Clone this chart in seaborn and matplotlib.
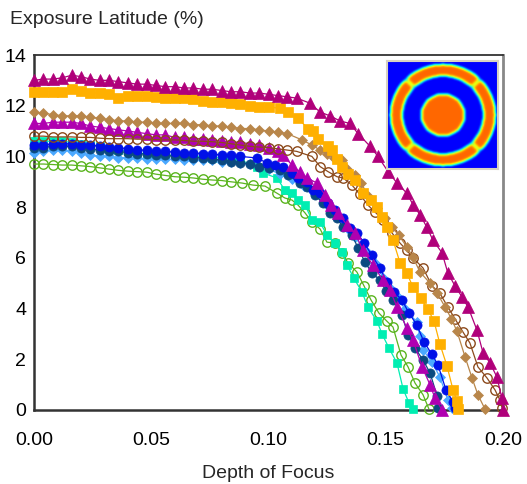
import numpy as np
import pandas as pd
import matplotlib
matplotlib.use("Agg")
import matplotlib.pyplot as plt
import seaborn as sns

# ---------------- data ----------------
series_names = ["A", "B", "C", "D", "E", "F", "G", "H", "I", "J"]

dof_A = [0.000, 0.004, 0.008, 0.012, 0.016, 0.020, 0.024, 0.028, 0.032, 0.036, 0.040, 0.044, 0.048, 0.052,
         0.056, 0.060, 0.064, 0.068, 0.072, 0.076, 0.080, 0.084, 0.088, 0.092, 0.096, 0.100, 0.104, 0.108,
         0.112, 0.1177, 0.1220, 0.1262, 0.1305, 0.1347, 0.1382, 0.1433, 0.1467, 0.1510, 0.1548, 0.1590,
         0.1616, 0.1646, 0.1676, 0.1701, 0.1740, 0.1765, 0.1795, 0.1825, 0.1851, 0.1889, 0.1915, 0.1945,
         0.1974, 0.1995, 0.2000]
el_A = [13.0, 13.05, 13.05, 13.1, 13.2, 13.15, 13.05, 13.0, 13.0, 12.95, 12.9, 12.85, 12.85, 12.8,
        12.75, 12.75, 12.7, 12.7, 12.65, 12.65, 12.6, 12.55, 12.55, 12.5, 12.5, 12.45, 12.4, 12.35,
        12.3, 12.1, 11.75, 11.6, 11.4, 11.3, 10.9, 10.4, 10.0, 9.4, 8.95, 8.55,
        8.1, 7.7, 7.2, 6.7, 6.2, 5.4, 4.9, 4.46, 4.06, 3.15, 2.25, 1.85,
        1.3, 0.47, 0.0]

dof_B = [0.000, 0.004, 0.008, 0.012, 0.016, 0.020, 0.024, 0.028, 0.032, 0.036, 0.040, 0.044, 0.048, 0.052,
         0.056, 0.060, 0.064, 0.068, 0.072, 0.076, 0.080, 0.084, 0.088, 0.092, 0.096, 0.100, 0.1049, 0.1083,
         0.1126, 0.1168, 0.1190, 0.1211, 0.1254, 0.1271, 0.1292, 0.1313, 0.1340, 0.1369, 0.1405, 0.1435,
         0.1463, 0.1484, 0.1505, 0.1531, 0.1561, 0.1590, 0.1616, 0.1650, 0.1680, 0.1706, 0.1731, 0.1761,
         0.1787, 0.1804, 0.1809]
el_B = [12.55, 12.55, 12.55, 12.55, 12.65, 12.6, 12.5, 12.5, 12.45, 12.3, 12.4, 12.4, 12.4, 12.35,
        12.3, 12.3, 12.3, 12.25, 12.2, 12.15, 12.15, 12.1, 12.05, 12.0, 11.95, 11.95, 11.9, 11.75,
        11.5, 11.1, 11.0, 10.7, 10.4, 10.25, 9.9, 9.6, 9.3, 9.07, 8.55, 8.3,
        8.0, 7.6, 7.2, 6.7, 5.8, 5.4, 4.85, 4.4, 3.97, 3.5, 2.6, 1.74,
        0.79, 0.35, 0.04]

dof_C = [0.000, 0.004, 0.008, 0.012, 0.016, 0.020, 0.024, 0.028, 0.032, 0.036, 0.040, 0.044, 0.048, 0.052,
         0.056, 0.060, 0.064, 0.068, 0.072, 0.076, 0.080, 0.084, 0.088, 0.092, 0.096, 0.100, 0.104, 0.108,
         0.1143, 0.1185, 0.1220, 0.1249, 0.1278, 0.1313, 0.1335, 0.1369, 0.1395, 0.1425, 0.1463, 0.1497,
         0.1527, 0.1555, 0.1590, 0.1616, 0.1646, 0.1689, 0.1720, 0.1753, 0.1780, 0.1804, 0.1838, 0.1868,
         0.1893, 0.1923]
el_C = [11.75, 11.7, 11.65, 11.6, 11.6, 11.6, 11.55, 11.5, 11.45, 11.4, 11.4, 11.35, 11.35, 11.3,
        11.3, 11.3, 11.3, 11.25, 11.25, 11.2, 11.2, 11.15, 11.1, 11.1, 11.05, 11.0, 10.95, 10.9,
        10.65, 10.45, 10.25, 10.1, 9.95, 9.86, 9.5, 9.25, 8.95, 8.45, 7.97, 7.57,
        7.2, 6.9, 6.43, 6.03, 5.44, 5.0, 4.6, 4.06, 3.6, 3.1, 2.1, 1.26,
        0.6, 0.04]

dof_D = [0.000, 0.004, 0.008, 0.012, 0.016, 0.020, 0.024, 0.028, 0.032, 0.036, 0.040, 0.044, 0.048, 0.052,
         0.056, 0.060, 0.064, 0.068, 0.072, 0.076, 0.080, 0.084, 0.088, 0.092, 0.096, 0.100, 0.104, 0.1062,
         0.1100, 0.1134, 0.1164, 0.1207, 0.1241, 0.1265, 0.1296, 0.1335, 0.1369, 0.1403, 0.1446, 0.1488,
         0.1518, 0.1548, 0.1590, 0.1616, 0.1655, 0.1689, 0.1710, 0.1740]
el_D = [11.3, 11.3, 11.35, 11.35, 11.35, 11.3, 11.2, 11.15, 11.1, 11.05, 11.0, 10.95, 10.9, 10.85,
        10.85, 10.75, 10.75, 10.7, 10.7, 10.65, 10.6, 10.57, 10.55, 10.5, 10.45, 10.35, 10.2, 10.05,
        9.66, 9.38, 9.15, 8.95, 8.48, 8.1, 7.77, 7.3, 6.98, 6.3, 5.7, 5.13,
        4.73, 4.06, 3.23, 2.76, 1.7, 0.99, 0.47, 0.0]

dof_E = [0.000, 0.004, 0.008, 0.012, 0.016, 0.020, 0.024, 0.028, 0.032, 0.036, 0.040, 0.044, 0.048, 0.052,
         0.056, 0.060, 0.064, 0.068, 0.072, 0.076, 0.080, 0.084, 0.088, 0.092, 0.096, 0.100, 0.104, 0.108,
         0.112, 0.1185, 0.1220, 0.1254, 0.1292, 0.1318, 0.1356, 0.1390, 0.1424, 0.1455, 0.1488, 0.1525,
         0.1561, 0.1590, 0.1616, 0.1659, 0.1697, 0.1731, 0.1765, 0.1795, 0.1829, 0.1859, 0.1893, 0.1932,
         0.1966, 0.1987, 0.1996]
el_E = [10.8, 10.8, 10.77, 10.77, 10.77, 10.75, 10.75, 10.72, 10.7, 10.7, 10.7, 10.68, 10.68, 10.66,
        10.65, 10.65, 10.63, 10.6, 10.6, 10.58, 10.55, 10.5, 10.45, 10.4, 10.37, 10.35, 10.3, 10.25,
        10.2, 10.0, 9.6, 9.4, 9.2, 9.15, 8.87, 8.5, 8.08, 7.8, 7.5, 7.0,
        6.58, 6.3, 6.0, 5.6, 4.9, 4.6, 4.06, 3.6, 3.08, 2.64, 1.7, 1.26,
        0.79, 0.39, 0.08]

dof_F = [0.000, 0.004, 0.008, 0.012, 0.016, 0.020, 0.024, 0.028, 0.032, 0.036, 0.040, 0.044, 0.048, 0.052,
         0.056, 0.060, 0.064, 0.068, 0.072, 0.076, 0.080, 0.084, 0.088, 0.0951, 0.0976, 0.1036, 0.1070,
         0.1100, 0.1126, 0.1156, 0.1185, 0.1220, 0.1249, 0.1283, 0.1313, 0.1335, 0.1364, 0.1399, 0.1424,
         0.1463, 0.1484, 0.1514, 0.1548, 0.1574, 0.1599, 0.1616]
el_F = [10.6, 10.6, 10.6, 10.6, 10.55, 10.5, 10.45, 10.4, 10.3, 10.25, 10.2, 10.15, 10.1, 10.1,
        10.05, 10.05, 10.0, 10.0, 10.0, 9.95, 9.95, 9.9, 9.85, 9.6, 9.35, 9.15, 8.67,
        8.55, 8.28, 8.08, 7.5, 7.4, 6.9, 6.58, 6.23, 5.72, 5.2, 4.65, 4.06,
        3.5, 3.0, 2.44, 1.85, 0.83, 0.28, 0.04]

dof_G = [0.000, 0.004, 0.008, 0.012, 0.016, 0.020, 0.024, 0.028, 0.032, 0.036, 0.040, 0.044, 0.048, 0.052,
         0.056, 0.060, 0.064, 0.068, 0.072, 0.076, 0.080, 0.084, 0.088, 0.0951, 0.0993, 0.1028, 0.1062,
         0.1100, 0.1126, 0.1164, 0.1190, 0.1220, 0.1254, 0.1283, 0.1318, 0.1347, 0.1377, 0.1407, 0.1441,
         0.1475, 0.1505, 0.1535, 0.1569, 0.1599, 0.1633, 0.1663, 0.1697, 0.1723, 0.1757, 0.1787, 0.1795]
el_G = [10.45, 10.45, 10.5, 10.5, 10.5, 10.45, 10.45, 10.4, 10.37, 10.35, 10.3, 10.25, 10.25, 10.2,
        10.2, 10.17, 10.15, 10.15, 10.1, 10.1, 10.05, 10.05, 10.0, 9.94, 9.74, 9.66, 9.6,
        9.35, 9.15, 9.0, 8.67, 8.55, 8.16, 7.9, 7.57, 7.18, 7.0, 6.6, 6.1,
        5.6, 5.05, 4.65, 4.34, 3.82, 3.35, 2.68, 2.2, 1.77, 0.79, 0.32, 0.08]

dof_H = [0.000, 0.004, 0.008, 0.012, 0.016, 0.020, 0.024, 0.028, 0.032, 0.036, 0.040, 0.044, 0.048, 0.052,
         0.056, 0.060, 0.064, 0.068, 0.072, 0.076, 0.080, 0.084, 0.088, 0.092, 0.096, 0.100, 0.1049, 0.1083,
         0.1134, 0.1164, 0.1198, 0.1232, 0.1262, 0.1292, 0.1318, 0.1356, 0.1382, 0.1411, 0.1441, 0.1475,
         0.1500, 0.1531, 0.1569, 0.1595, 0.1625, 0.1659, 0.1689, 0.1719, 0.1723]
el_H = [10.35, 10.35, 10.4, 10.4, 10.4, 10.35, 10.3, 10.25, 10.2, 10.2, 10.15, 10.1, 10.1, 10.05,
        10.05, 10.0, 10.0, 9.95, 9.95, 9.9, 9.85, 9.8, 9.75, 9.7, 9.6, 9.55, 9.46, 9.27,
        8.95, 8.8, 8.48, 8.16, 7.77, 7.57, 7.2, 6.9, 6.39, 5.84, 5.4, 5.13,
        4.7, 4.34, 3.75, 2.96, 2.44, 1.97, 1.46, 0.55, 0.08]

dof_I = [0.000, 0.004, 0.008, 0.012, 0.016, 0.020, 0.024, 0.028, 0.032, 0.036, 0.040, 0.044, 0.048, 0.052,
         0.056, 0.060, 0.064, 0.068, 0.072, 0.076, 0.080, 0.084, 0.088, 0.092, 0.096, 0.100, 0.105, 0.110,
         0.115, 0.120, 0.125, 0.130, 0.1345, 0.1369, 0.1410, 0.1454, 0.1490, 0.1515, 0.1548, 0.1580,
         0.1633, 0.1645, 0.1659, 0.1697, 0.1731, 0.1765, 0.1782]
el_I = [10.15, 10.2, 10.25, 10.25, 10.2, 10.15, 10.05, 10.0, 10.0, 9.95, 9.95, 9.95, 9.9, 9.9,
        9.9, 9.88, 9.86, 9.86, 9.85, 9.85, 9.8, 9.8, 9.75, 9.7, 9.6, 9.5, 9.3, 9.1,
        8.85, 8.5, 8.1, 7.6, 7.1, 6.82, 6.3, 5.8, 5.2, 4.85, 4.5, 4.0,
        3.47, 2.9, 2.37, 1.89, 1.3, 0.39, 0.08]

dof_J = [0.000, 0.004, 0.008, 0.012, 0.016, 0.020, 0.024, 0.028, 0.032, 0.036, 0.040, 0.044, 0.048, 0.052,
         0.056, 0.060, 0.064, 0.068, 0.072, 0.076, 0.080, 0.084, 0.0887, 0.0934, 0.0985, 0.1036, 0.1070,
         0.1100, 0.1126, 0.1156, 0.1185, 0.1220, 0.1249, 0.1283, 0.1313, 0.1339, 0.1377, 0.1407, 0.1437,
         0.1471, 0.1505, 0.1531, 0.1565, 0.1595, 0.1625, 0.1659, 0.1684]
el_J = [9.7, 9.7, 9.68, 9.66, 9.66, 9.63, 9.6, 9.55, 9.5, 9.45, 9.42, 9.4, 9.38, 9.3,
        9.25, 9.2, 9.18, 9.15, 9.1, 9.07, 9.05, 9.0, 8.95, 8.87, 8.83, 8.55, 8.36,
        8.28, 8.08, 7.77, 7.41, 7.14, 6.62, 6.58, 6.19, 5.8, 5.44, 4.9, 4.34,
        3.82, 3.5, 3.27, 2.17, 1.7, 1.06, 0.6, 0.04]

x_ticks = [0.00, 0.05, 0.10, 0.15, 0.20]
x_tick_labels = ["0.00", "0.05", "0.10", "0.15", "0.20"]
y_ticks = [0, 2, 4, 6, 8, 10, 12, 14]
x_title = "Depth of Focus"
y_title = "Exposure Latitude (%)"

# ---------------- build long table ----------------
all_dof = [dof_A, dof_B, dof_C, dof_D, dof_E, dof_F, dof_G, dof_H, dof_I, dof_J]
all_el = [el_A, el_B, el_C, el_D, el_E, el_F, el_G, el_H, el_I, el_J]
frames = []
for name, xs, ys in zip(series_names, all_dof, all_el):
    frames.append(pd.DataFrame({"series": name, "dof": xs, "el": ys}))
df = pd.concat(frames, ignore_index=True)

# styles: color, marker, markersize, hollow
styles = {
    "J": ("#5AB41E", "o", 6.8, True),
    "F": ("#00EEB2", "s", 6.3, False),
    "I": ("#4AA8FF", "D", 5.0, False),
    "H": ("#0B4A80", "o", 6.6, False),
    "G": ("#0010E8", "o", 6.6, False),
    "D": ("#B000B0", "^", 8.3, False),
    "E": ("#8C4A1C", "o", 6.8, True),
    "C": ("#B8864A", "D", 5.4, False),
    "B": ("#FFB000", "s", 6.5, False),
    "A": ("#B0007A", "^", 8.5, False),
}
draw_order = ["J", "F", "I", "H", "G", "D", "E", "C", "B", "A"]

# ---------------- figure ----------------
sns.set_style("white")
plt.rcParams["font.family"] = ["Liberation Sans", "DejaVu Sans"]

fig = plt.figure(figsize=(5.27, 4.84), dpi=100)
ax = fig.add_axes([34 / 527, 1 - 410 / 484, (503 - 34) / 527, (410 - 55) / 484])

for z, name in enumerate(draw_order):
    c, m, ms, hollow = styles[name]
    sub = df[df["series"] == name]
    kw = dict(marker=m, markersize=ms, markeredgecolor=c,
              markerfacecolor=("none" if hollow else c),
              markeredgewidth=(1.0 if hollow else 0.5))
    sns.lineplot(data=sub, x="dof", y="el", ax=ax, color=c, linewidth=0.9,
                 estimator=None, sort=False, clip_on=False, zorder=3 + z, **kw)

ax.set_xlim(0, 0.2)
ax.set_ylim(0, 14)
ax.set_xlabel("")
ax.set_ylabel("")
ax.set_xticks(x_ticks)
ax.set_xticklabels(x_tick_labels)
ax.set_yticks(y_ticks)
ax.set_xticks([0.025, 0.075, 0.125, 0.175], minor=True)
ax.set_yticks([1, 3, 5, 7, 9, 11, 13], minor=True)
ax.tick_params(axis="both", which="both", direction="inout", color="#333333", width=1.2)
ax.tick_params(axis="both", which="major", length=7, labelsize=14, labelcolor="black")
ax.tick_params(axis="both", which="minor", length=6)
ax.tick_params(axis="x", which="major", pad=12)
ax.tick_params(axis="y", which="major", pad=2)
for side in ["left", "bottom"]:
    ax.spines[side].set_color("#333333")
    ax.spines[side].set_linewidth(1.8)
ax.spines["top"].set_color("#333333")
ax.spines["top"].set_linewidth(1.3)
ax.spines["right"].set_color("#888888")
ax.spines["right"].set_linewidth(2.0)
ax.grid(False)

fig.text(10 / 527, 1 - 19 / 484, y_title, fontsize=14, ha="left", va="center")
fig.text(268 / 527, 1 - 474 / 484, x_title, fontsize=14, ha="center", va="center")

# ---------------- inset (mask pattern) ----------------
n = 110
g = np.linspace(-1, 1, n)
U, V = np.meshgrid(g, g)
R = np.hypot(U, V)
bg_val, hi_val = 0.11, 0.80
img = np.full((n, n), bg_val)
img[R <= 0.39] = hi_val
ring = (R >= 0.73) & (R <= 0.945)
ang = np.degrees(np.arctan2(V, U)) % 90
gap = np.abs(ang - 45) * np.pi / 180 * R < 0.02
img[ring & ~gap] = hi_val
img[ring & gap] = 0.45
sig = 1.5
kx = np.arange(-5, 6)
ker = np.exp(-kx ** 2 / (2 * sig ** 2))
ker /= ker.sum()
pad = np.pad(img, 5, mode="edge")
pad = np.apply_along_axis(lambda r: np.convolve(r, ker, mode="same"), 1, pad)
pad = np.apply_along_axis(lambda r: np.convolve(r, ker, mode="same"), 0, pad)
img = pad[5:-5, 5:-5]

iax = fig.add_axes([387 / 527, 1 - 169 / 484, 111 / 527, 108 / 484])
iax.imshow(img, cmap="jet", vmin=0, vmax=1, interpolation="bilinear", aspect="auto")
iax.set_xticks(np.linspace(0, n - 1, 11))
iax.set_yticks(np.linspace(0, n - 1, 11))
iax.set_xticklabels([])
iax.set_yticklabels([])
iax.tick_params(axis="both", direction="in", length=2, width=0.6, color="#707070",
                top=False, right=False)
for s in iax.spines.values():
    s.set_color("#D8D2C2")
    s.set_linewidth(1.5)

fig.savefig("out.png", dpi=100)
